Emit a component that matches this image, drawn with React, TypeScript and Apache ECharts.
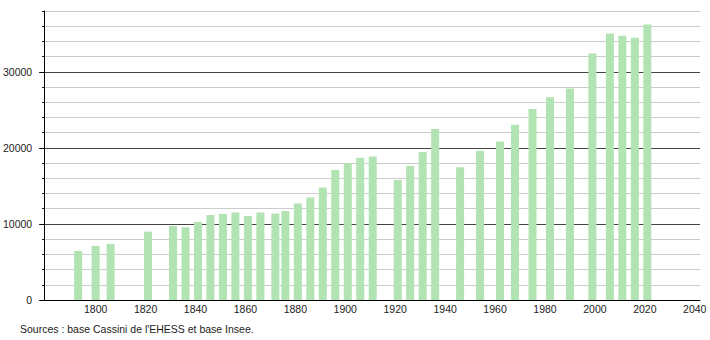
import React, { useEffect, useRef } from "react";
import * as echarts from "echarts";

const years = [1793, 1800, 1806, 1821, 1831, 1836, 1841, 1846, 1851, 1856, 1861, 1866, 1872, 1876, 1881, 1886, 1891, 1896, 1901, 1906, 1911, 1921, 1926, 1931, 1936, 1946, 1954, 1962, 1968, 1975, 1982, 1990, 1999, 2006, 2011, 2016, 2021];
const population = [6480, 7100, 7370, 8990, 9740, 9560, 10260, 11180, 11320, 11490, 11050, 11500, 11360, 11710, 12680, 13470, 14780, 17100, 17980, 18720, 18860, 15790, 17630, 19470, 22500, 17460, 19600, 20830, 23030, 25130, 26670, 27800, 32410, 35040, 34740, 34470, 36220];
const xTickYears = [1800, 1820, 1840, 1860, 1880, 1900, 1920, 1940, 1960, 1980, 2000, 2020, 2040];
const yMajorTicks = [0, 10000, 20000, 30000];
const sourceText = "Sources : base Cassini de l'EHESS et base Insee.";

const FONT = '"Liberation Sans", Arial, "DejaVu Sans", sans-serif';

export default function App() {
  const ref = useRef<HTMLDivElement>(null);
  useEffect(() => {
    if (!ref.current) return;
    const chart = echarts.init(ref.current, undefined, { renderer: "svg" });
    chart.setOption({
      animation: false,
      backgroundColor: "#ffffff",
      grid: { left: 44, right: 10, top: 11, bottom: 40, containLabel: false },
      xAxis: {
        type: "value",
        min: 1779.4,
        max: 2042.1,
        axisLine: { show: true, lineStyle: { color: "#000", width: 1 } },
        axisTick: { show: false },
        splitLine: { show: false },
        axisLabel: {
          customValues: xTickYears,
          color: "#222",
          fontFamily: FONT,
          fontSize: 10.5,
          margin: 3,
          formatter: (v: number) => String(v),
        },
      },
      yAxis: [
        {
          type: "value",
          min: 0,
          max: 38000,
          interval: 2000,
          position: "left",
          axisLine: { show: true, lineStyle: { color: "#000", width: 1 } },
          axisTick: { show: true, length: 2, lineStyle: { color: "#000" } },
          splitLine: {
            show: true,
            lineStyle: { color: ["#444", "#cccccc", "#cccccc", "#cccccc", "#cccccc"], width: 1 },
          },
          axisLabel: {
            color: "#222",
            fontFamily: FONT,
            fontSize: 10.5,
            margin: 12,
            formatter: (v: number) => (v % 10000 === 0 ? String(v) : ""),
          },
        },
        {
          type: "value",
          min: 0,
          max: 38000,
          interval: 10000,
          position: "left",
          axisLine: { show: false },
          axisTick: { show: true, length: 5, customValues: yMajorTicks, lineStyle: { color: "#000" } },
          splitLine: { show: false },
          axisLabel: { show: false },
        },
      ],
      series: [
        {
          type: "bar",
          yAxisIndex: 0,
          barWidth: 8,
          itemStyle: { color: "#b2e3b2" },
          data: years.map((y, i) => [y, population[i]]),
          z: 3,
        },
      ],
      graphic: [
        {
          type: "text",
          left: 20,
          top: 323,
          style: { text: sourceText, fill: "#222", font: `10.5px ${FONT}` },
        },
      ],
    });
    return () => chart.dispose();
  }, []);
  return (
    <div
      ref={ref}
      style={{ position: "fixed", left: 0, top: 0, width: 710, height: 340 }}
    />
  );
}
